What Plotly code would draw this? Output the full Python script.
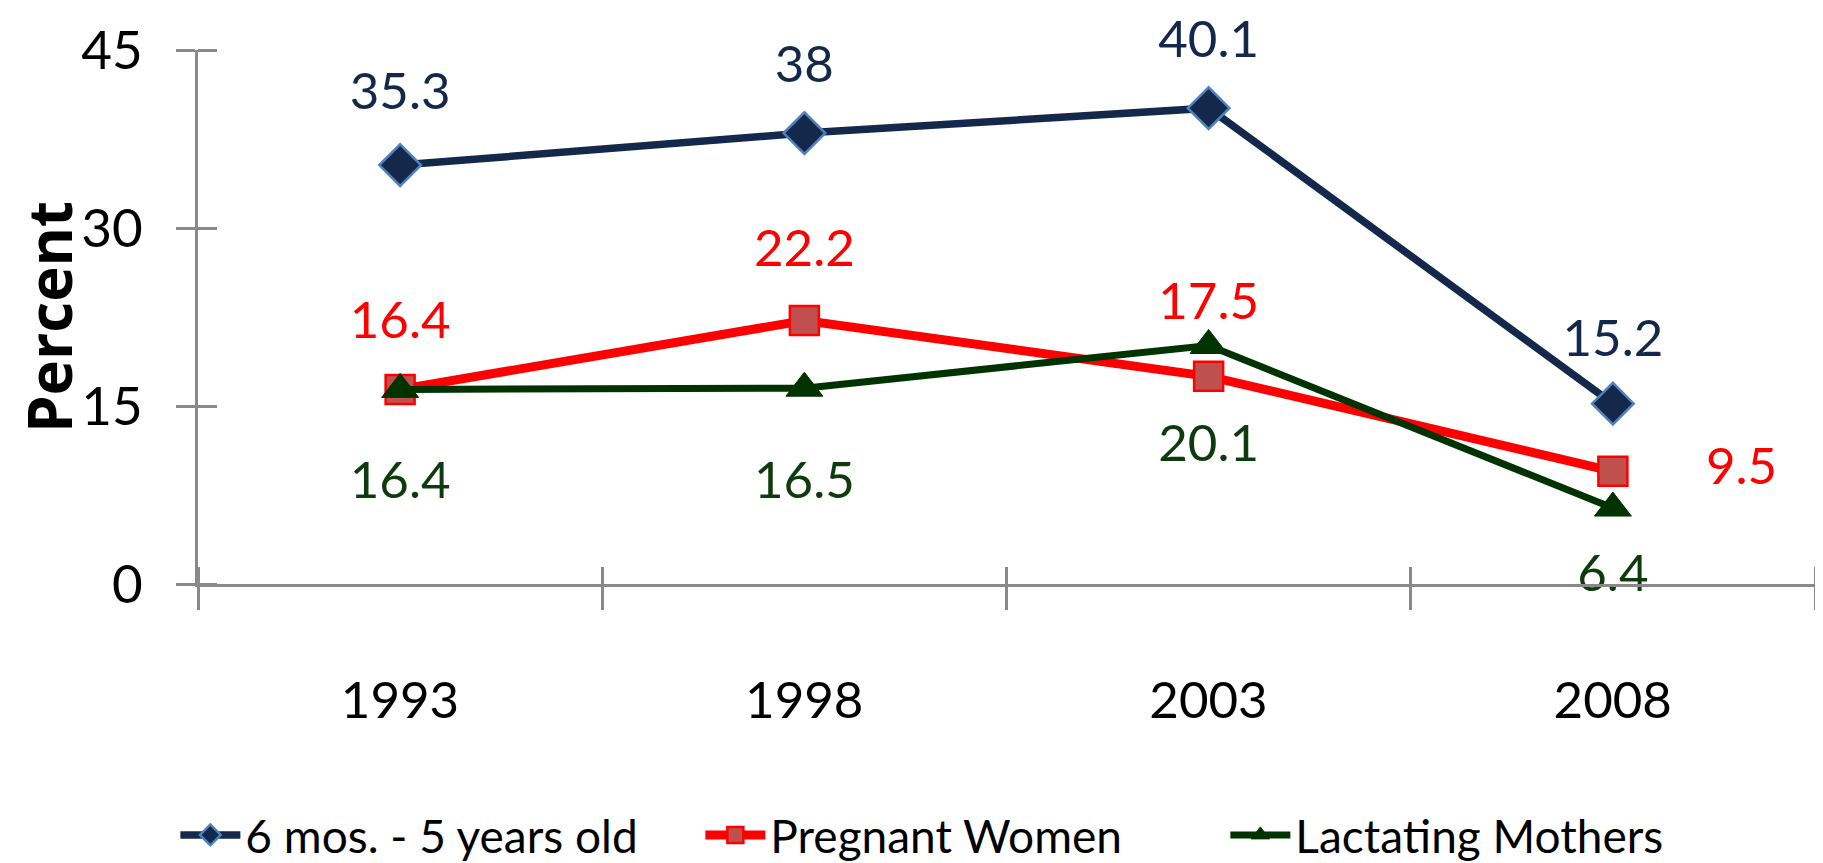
import plotly.graph_objects as go

# ---- data ----
years = ["1993", "1998", "2003", "2008"]
children = [35.3, 38.0, 40.1, 15.2]
pregnant = [16.4, 22.2, 17.5, 9.5]
lactating = [16.4, 16.5, 20.1, 6.4]
series_names = ["6 mos. - 5 years old", "Pregnant Women", "Lactating Mothers"]
y_ticks = [0, 15, 30, 45]

# ---- style ----
FONT = "Lato, Open Sans, sans-serif"
NAVY = "#13284A"
NAVY_EDGE = "#4F81BD"
RED = "#FF0000"
RED_FILL = "#C0504D"
GREEN = "#003300"
GREEN_TXT = "#0E3B0E"
AXIS = "#898989"
LABEL_SIZE = 51
EPS = 1e-6

x_idx = list(range(len(years)))                       # category positions
bounds = [i - 0.5 for i in range(len(years) + 1)]     # category boundaries


def label_marker_size(dist, pos, f=LABEL_SIZE):
    """invisible marker size that puts the label centre `dist` px from the point"""
    if pos.startswith("top"):
        r = dist - 0.61 * f
    elif pos.startswith("bottom"):
        r = dist - 0.39 * f
    else:
        r = dist
    return max(1.6 * (r - 1), 1)


fig = go.Figure()

fig.add_trace(go.Scatter(
    x=x_idx, y=children, name=series_names[0], mode="lines+markers",
    line=dict(color=NAVY, width=7.5),
    marker=dict(symbol="diamond", size=32, color=NAVY, line=dict(color=NAVY_EDGE, width=2.5)),
    hoverinfo="skip"))
fig.add_trace(go.Scatter(
    x=x_idx, y=pregnant, name=series_names[1], mode="lines+markers",
    line=dict(color=RED, width=9),
    marker=dict(symbol="square", size=29, color=RED_FILL, line=dict(color=RED, width=2.5)),
    hoverinfo="skip"))
fig.add_trace(go.Scatter(
    x=x_idx, y=lactating, name=series_names[2], mode="lines+markers",
    line=dict(color=GREEN, width=7),
    marker=dict(symbol="triangle-up", size=32, color=GREEN, line=dict(color=GREEN, width=1)),
    hoverinfo="skip"))

# ---- data labels (text of each series, offset by invisible markers) ----
label_specs = [
    (children, NAVY, ["top center"] * 4, [74, 69, 70, 66]),
    (pregnant, RED, ["top center"] * 3 + ["middle right"], [70, 73, 76, 93]),
    (lactating, GREEN_TXT, ["bottom center"] * 4, [90, 91, 97, 65]),
]
for vals, col, poss, dists in label_specs:
    fig.add_trace(go.Scatter(
        x=x_idx, y=vals, mode="markers+text",
        text=[f"{v:g}" for v in vals], textposition=poss,
        textfont=dict(family=FONT, size=LABEL_SIZE, color=col),
        marker=dict(size=[label_marker_size(d, p) for d, p in zip(dists, poss)],
                    color="rgba(0,0,0,0)", line=dict(width=0)),
        showlegend=False, hoverinfo="skip", cliponaxis=False))

axis_common = dict(showline=True, linecolor=AXIS, linewidth=2.5,
                   tickcolor=AXIS, tickwidth=2.5, showgrid=False, zeroline=False)

# page body has an 8px margin: shrink the figure by 8px and shift margins accordingly
fig.update_layout(
    width=1815, height=855,
    margin=dict(l=190, r=8, t=42, b=279, autoexpand=False),
    paper_bgcolor="white", plot_bgcolor="white",
    font=dict(family=FONT, color="black"),
    showlegend=True,
    legend=dict(orientation="h", x=-0.014, xanchor="left", y=-0.47, yanchor="middle",
                font=dict(family=FONT, size=46, color="black"),
                entrywidth=450, entrywidthmode="pixels", itemwidth=60,
                bgcolor="rgba(0,0,0,0)"),
    xaxis=dict(range=[bounds[0], bounds[-1]], tickmode="array", tickvals=bounds,
               ticktext=years + [""], ticklabelshift=202,
               ticks="outside", ticklen=23, automargin=False,
               minor=dict(tickmode="array", tickvals=[b - EPS for b in bounds],
                          ticks="inside", ticklen=17, tickcolor=AXIS, tickwidth=2.5,
                          showgrid=False),
               tickfont=dict(family=FONT, size=51, color="black"),
               ticklabelstandoff=47, **axis_common),
    yaxis=dict(range=[y_ticks[0], y_ticks[-1]], tickmode="array", tickvals=y_ticks,
               ticks="outside", ticklen=19, automargin=True,
               minor=dict(tickmode="array", tickvals=[v - EPS for v in y_ticks],
                          ticks="inside", ticklen=19, tickcolor=AXIS, tickwidth=2.5,
                          showgrid=False),
               tickfont=dict(family=FONT, size=53, color="black"),
               ticklabelstandoff=23,
               title=dict(text="<b>Percent</b>", standoff=20,
                          font=dict(family="Open Sans", size=60, color="black")),
               **axis_common),
)

fig.write_html("out.html")
